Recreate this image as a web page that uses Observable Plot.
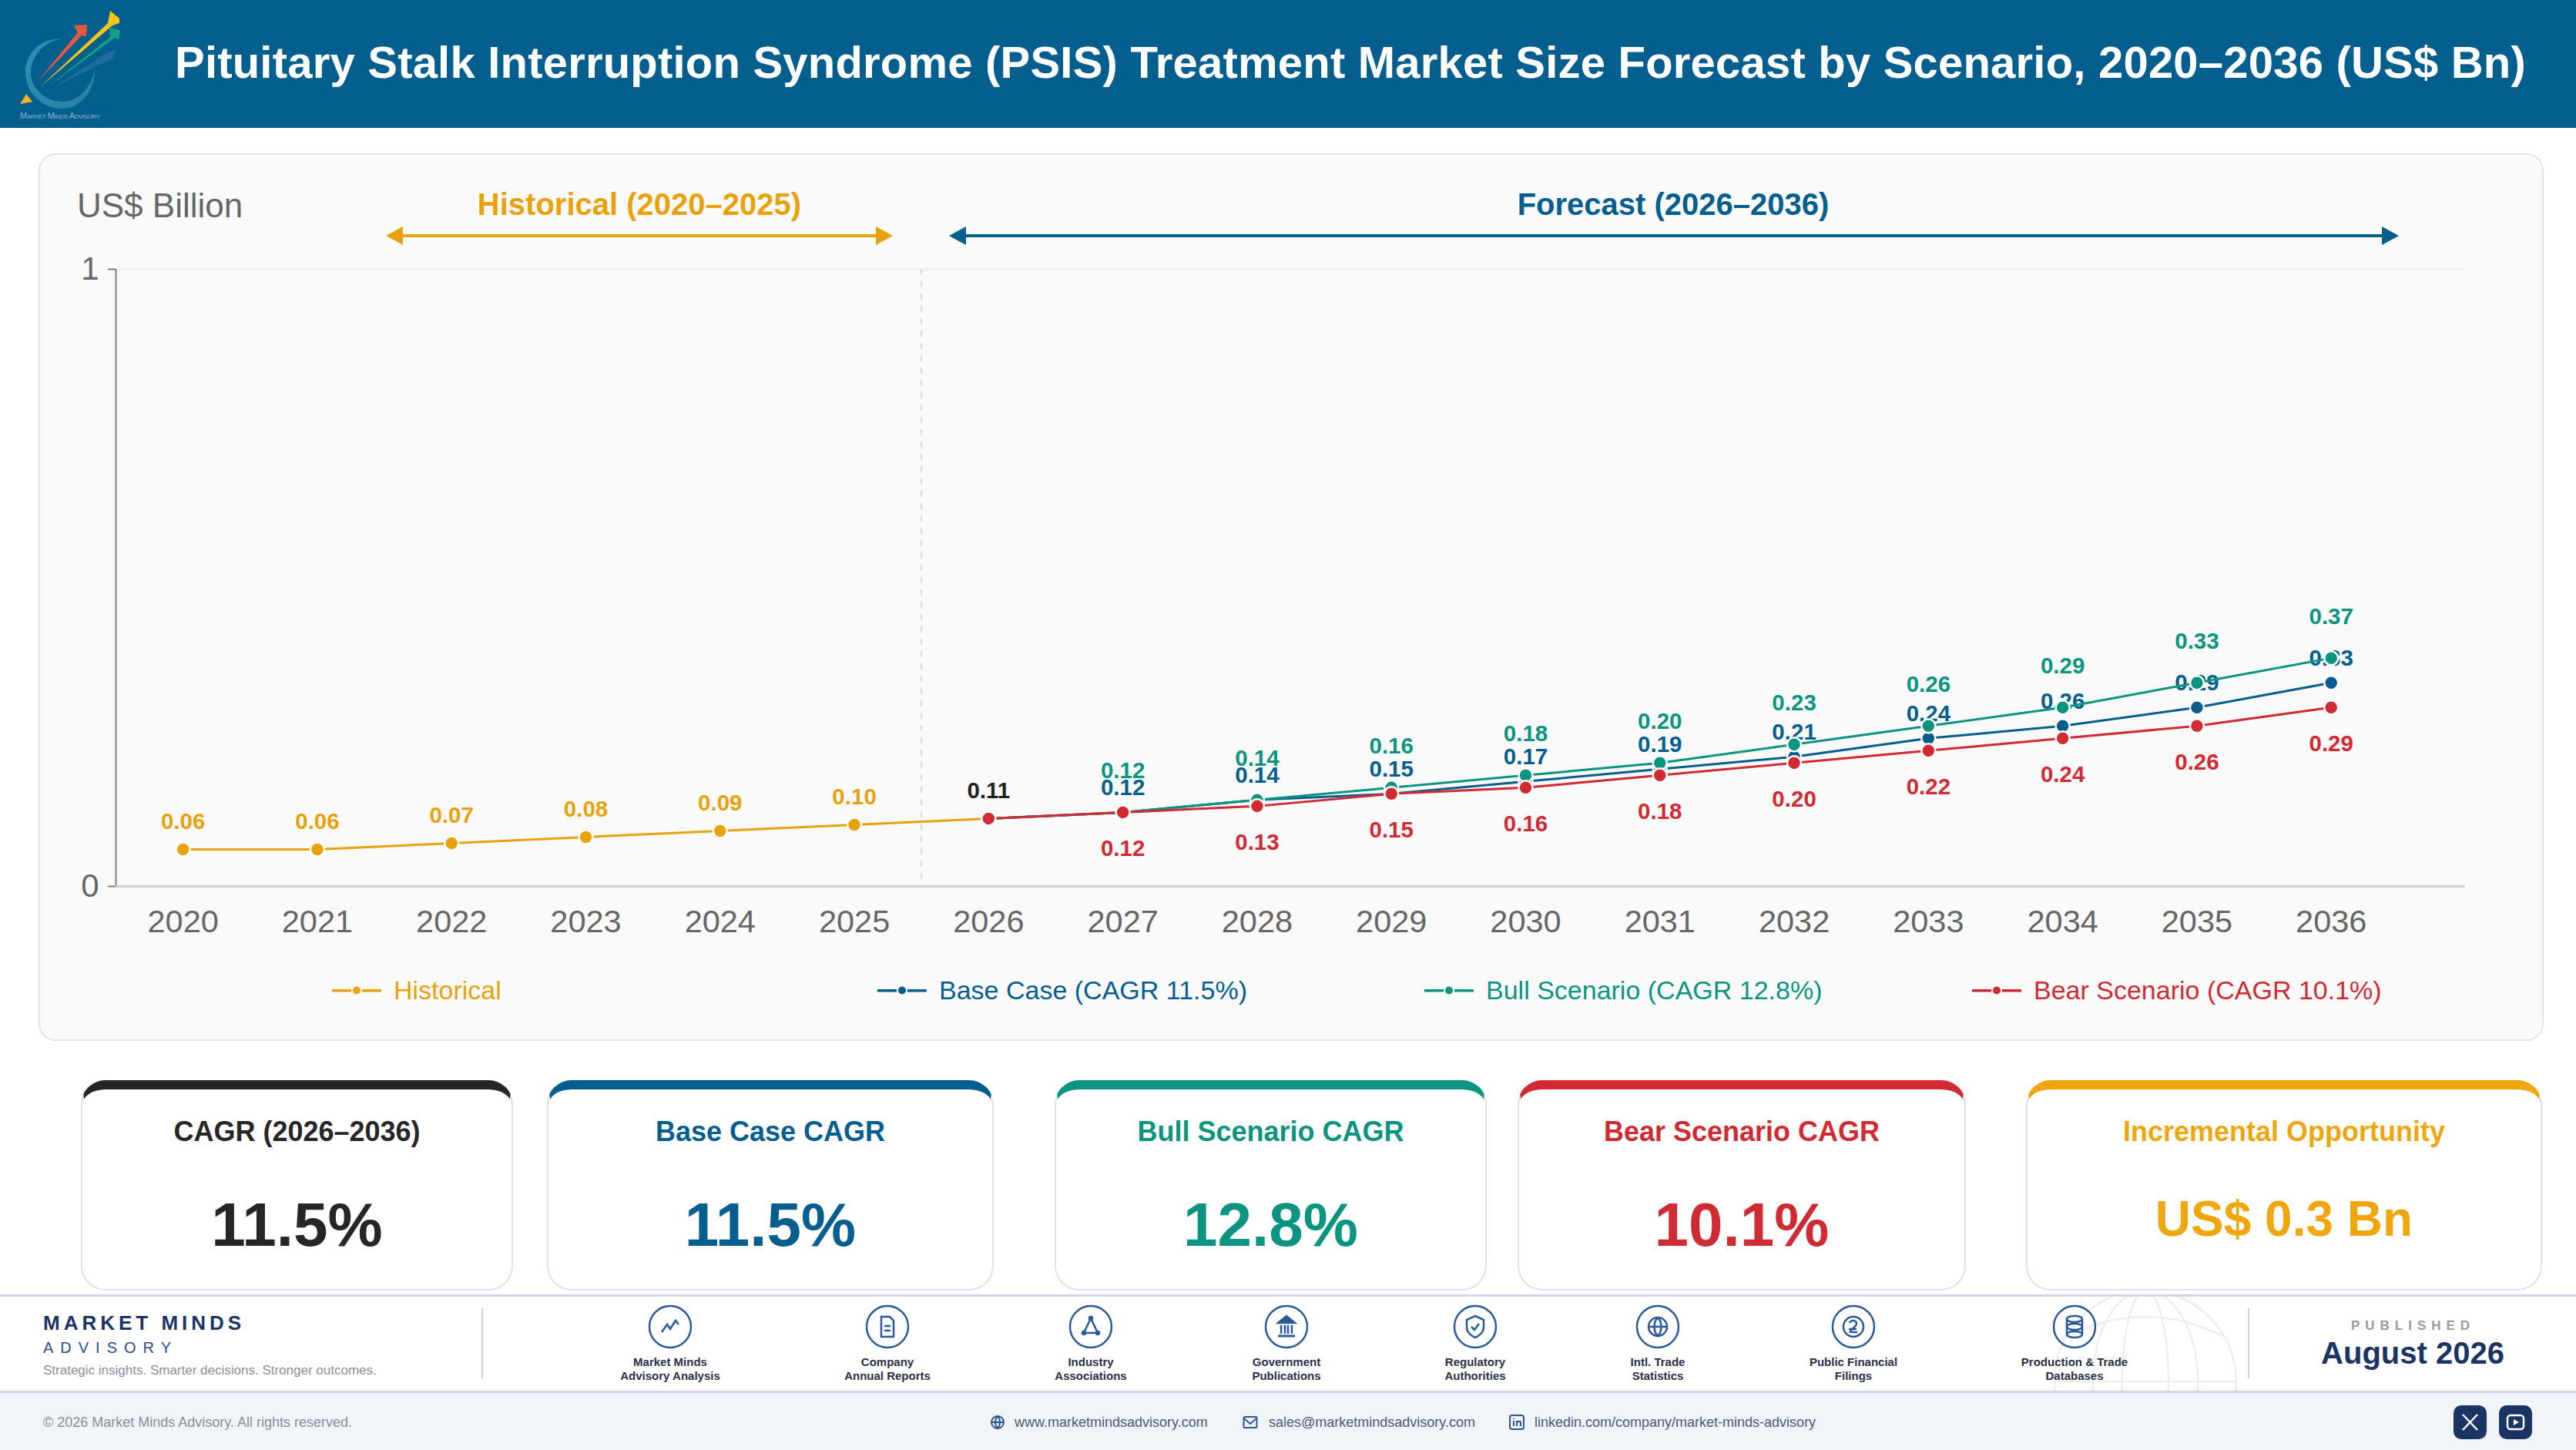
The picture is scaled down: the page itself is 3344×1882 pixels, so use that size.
<!DOCTYPE html>
<html><head><meta charset="utf-8">
<script src="https://cdn.jsdelivr.net/npm/d3@7"></script>
<script src="https://cdn.jsdelivr.net/npm/@observablehq/plot@0.6"></script>
<style>
html,body{margin:0;padding:0;background:#fff;}
body{width:3344px;height:1882px;position:relative;overflow:hidden;font-family:"Liberation Sans",Arial,sans-serif;}
.abs{position:absolute;white-space:nowrap;line-height:1;}
.c{transform:translate(-50%,-50%);text-align:center;}
.m{transform:translateY(-50%);}
#header{position:absolute;left:0;top:0;width:3344px;height:166px;background:#055f8e;}
#panel{position:absolute;left:50px;top:199px;width:3248px;height:1148px;background:#fafafa;border:2px solid #e4e4e4;border-radius:22px;}
#chart{position:absolute;left:50px;top:199px;}
.card{position:absolute;top:1402px;height:273px;box-sizing:border-box;background:#fff;border:2px solid #e2e2e2;border-top:12px solid;border-radius:32px;}
#foot1{position:absolute;left:0;top:1680px;width:3344px;height:128px;box-sizing:border-box;border-top:3px solid #d3d6e4;border-bottom:3px solid #d3d6e4;background:#fff;overflow:hidden;}
#foot2{position:absolute;left:0;top:1808px;width:3344px;height:74px;background:#f0f3f8;}
.divider{position:absolute;top:1698px;height:91px;width:2px;background:#ccd2e0;}
.btn{position:absolute;top:1824px;width:43px;height:44px;border-radius:10px;background:#1a3563;}
</style></head><body>
<div id="header"></div>
<svg class="abs" style="left:0;top:0" width="170" height="166" viewBox="0 0 170 166">
  <defs><linearGradient id="sw" x1="0" y1="0" x2="1" y2="1"><stop offset="0" stop-color="#2f8fb0"/><stop offset="1" stop-color="#2a7fa6"/></linearGradient></defs>
  <path d="M80 50 C50 50 32 72 33 95 C34 122 56 141 80 141 C104 141 124 118 123 88 C120 112 102 133 80 132 C58 131 40 115 40 94 C40 72 58 54 80 50Z" fill="url(#sw)"/>
  <path d="M70 113 L140 68 L150 65 L146 76Z" fill="#2a73a8" opacity=".7"/>
  <path d="M63 112 L143 48 L142 36 L156 39 L154 52 L149 49Z" fill="#15a083"/>
  <path d="M48 107 L101 42 L96 33 L113 32 L112 47 L106 46Z" fill="#e8583e"/>
  <path d="M52 113 L140 30 L143 14 L155 24 L155 30 L146 33Z" fill="#f5c518"/>
  <path d="M26 135 L34 122 L42 132Z" fill="#f5b325"/>
  <text x="26" y="154" textLength="104" font-size="11" style="font-variant:small-caps" fill="#8fb0c8" font-family="Liberation Sans">Market Minds Advisory</text>
</svg>
<div class="abs m" id="title" style="left:227px;top:81px;font-size:58px;font-weight:700;color:#fff">Pituitary Stalk Interruption Syndrome (PSIS) Treatment Market Size Forecast by Scenario, 2020–2036 (US$ Bn)</div>
<div id="panel"></div>
<div id="chart"></div>
<div class="abs m" style="left:100px;top:267px;font-size:44px;color:#666">US$ Billion</div>
<div class="abs c" style="left:830px;top:265px;font-size:40px;font-weight:700;color:#e8a30c">Historical (2020–2025)</div>
<div class="abs c" style="left:2172px;top:265px;font-size:40px;font-weight:700;color:#055f8e">Forecast (2026–2036)</div>
<svg class="abs" style="left:480px;top:290px" width="2660" height="32">
  <g fill="#e8a30c"><rect x="40" y="14" width="620" height="4"/><path d="M21 16 L43 4 L43 28Z"/><path d="M679 16 L657 4 L657 28Z"/></g>
  <g fill="#055f8e"><rect x="770" y="14" width="1850" height="4"/><path d="M752 16 L774 4 L774 28Z"/><path d="M2634 16 L2612 4 L2612 28Z"/></g>
</svg>
<div id="legend"></div>
<div id="cards"></div>
<div id="foot1">
 <svg style="position:absolute;left:2655px;top:-20px" width="270" height="260" viewBox="0 0 270 260" fill="none" stroke="#eceef2" stroke-width="2.5">
  <circle cx="130" cy="130" r="118"/><ellipse cx="130" cy="130" rx="68" ry="118"/><ellipse cx="130" cy="130" rx="30" ry="118"/>
  <path d="M12 130 H248 M28 72 Q130 20 232 72"/>
 </svg>
</div>
<div id="foot2"></div>
<div class="abs m" style="left:56px;top:1717px;font-size:26px;font-weight:700;color:#1a3563;letter-spacing:5px">MARKET MINDS</div>
<div class="abs m" style="left:56px;top:1749px;font-size:20px;color:#2f4d7e;letter-spacing:9px">ADVISORY</div>
<div class="abs m" style="left:56px;top:1778px;font-size:17px;color:#8a8f98">Strategic insights. Smarter decisions. Stronger outcomes.</div>
<div class="divider" style="left:625px"></div>
<div class="divider" style="left:2918px"></div>
<div id="sources"></div>
<div class="abs c" style="left:3129px;top:1720px;font-size:17px;font-weight:700;color:#98989f;letter-spacing:7px;padding-left:7px">PUBLISHED</div>
<div class="abs c" style="left:3132px;top:1756px;font-size:40px;font-weight:700;color:#1a3563">August 2026</div>
<div class="abs m" style="left:56px;top:1846px;font-size:18px;color:#8a8f98">© 2026 Market Minds Advisory. All rights reserved.</div>
<svg class="abs" style="left:1284px;top:1835px" width="22" height="22" fill="none" stroke="#2f5590" stroke-width="2"><circle cx="11" cy="11" r="8"/><path d="M3 11H19M11 3C7 7 7 15 11 19C15 15 15 7 11 3"/></svg>
<div class="abs m" style="left:1317px;top:1846px;font-size:18px;color:#4a5a7a">www.marketmindsadvisory.com</div>
<svg class="abs" style="left:1612px;top:1835px" width="22" height="22" fill="none" stroke="#2f5590" stroke-width="2"><rect x="2.500" y="4" width="17" height="14" rx="1.500"/><path d="M3 6L11 13L19 6"/></svg>
<div class="abs m" style="left:1647px;top:1846px;font-size:18px;color:#4a5a7a">sales@marketmindsadvisory.com</div>
<svg class="abs" style="left:1958px;top:1835px" width="22" height="22" fill="none" stroke="#2f5590" stroke-width="2"><rect x="2" y="2" width="18" height="18" rx="3"/><path d="M7 9V16M7 6V7M11 16V9M11 12C12 9 16 9 16 12V16"/></svg>
<div class="abs m" style="left:1992px;top:1846px;font-size:18px;color:#4a5a7a">linkedin.com/company/market-minds-advisory</div>
<div class="btn" style="left:3185px"><svg width="43" height="44" fill="none" stroke="#fff" stroke-width="2.500"><path d="M12 12L31 32M31 12L12 32"/></svg></div>
<div class="btn" style="left:3244px"><svg width="43" height="44" fill="none" stroke="#fff" stroke-width="2.500"><rect x="11" y="13" width="21" height="18" rx="4"/><path d="M19 18L26 22L19 26Z" fill="#fff" stroke="none"/></svg></div>

<script>
// ---------- chart data ----------
const years = [2020,2021,2022,2023,2024,2025,2026,2027,2028,2029,2030,2031,2032,2033,2034,2035,2036];
const historicalYears = [2020,2021,2022,2023,2024,2025,2026];
const historicalValues = [0.06,0.06,0.07,0.08,0.09,0.10,0.11];
const forecastYears = [2026,2027,2028,2029,2030,2031,2032,2033,2034,2035,2036];
const baseValues = [0.11,0.12,0.14,0.15,0.17,0.19,0.21,0.24,0.26,0.29,0.33];
const bullValues = [0.11,0.12,0.14,0.16,0.18,0.20,0.23,0.26,0.29,0.33,0.37];
const bearValues = [0.11,0.12,0.13,0.15,0.16,0.18,0.20,0.22,0.24,0.26,0.29];
const legendLabels = ["Historical","Base Case (CAGR 11.5%)","Bull Scenario (CAGR 12.8%)","Bear Scenario (CAGR 10.1%)"];
const kpiTitles = ["CAGR (2026–2036)","Base Case CAGR","Bull Scenario CAGR","Bear Scenario CAGR","Incremental Opportunity"];
const kpiValues = ["11.5%","11.5%","12.8%","10.1%","US$ 0.3 Bn"];
const sourceLabels = [["Market Minds","Advisory Analysis"],["Company","Annual Reports"],["Industry","Associations"],["Government","Publications"],["Regulatory","Authorities"],["Intl. Trade","Statistics"],["Public Financial","Filings"],["Production & Trade","Databases"]];

// ---------- styling ----------
const HIST="#e8a30c", BASE="#055f8e", BULL="#0b9580", BEAR="#d02b33";
const tbl=(xs,vs)=>xs.map((year,i)=>({year,value:vs[i]}));
const hist=tbl(historicalYears,historicalValues), base=tbl(forecastYears,baseValues),
      bull=tbl(forecastYears,bullValues), bear=tbl(forecastYears,bearValues);
const f2=d=>d.value.toFixed(2);
const labelOpts={x:"year",y:"value",text:f2,fontSize:29.5,fontWeight:700,fontFamily:"Liberation Sans"};
const lineOpts={x:"year",y:"value",strokeWidth:3};
const dotOpts={x:"year",y:"value",r:9,stroke:"#fff",strokeWidth:2.5};

const plot=Plot.plot({
  width:3250,height:1150,
  marginLeft:100,marginRight:100,marginTop:150,marginBottom:199,
  style:{background:"transparent",fontFamily:"Liberation Sans"},
  x:{type:"linear",domain:[2019.5,2037],label:null},
  y:{domain:[0,1],label:null},
  marks:[
    Plot.ruleY([1],{stroke:"#eeeeee",strokeWidth:2}),
    Plot.ruleX([2025.5],{stroke:"#d8d8d8",strokeWidth:2,strokeDasharray:"8 8"}),
    Plot.ruleX([2019.5],{stroke:"#808080",strokeWidth:2}),
    Plot.ruleY([0],{stroke:"#cfcfcf",strokeWidth:3}),
    Plot.axisY({ticks:[0,1],tickFormat:d=>String(d),tickSize:10,tickPadding:12,fontSize:42,color:"#666",stroke:"#808080",label:null,strokeWidth:2}),
    Plot.axisX({ticks:years,tickFormat:"d",tickSize:0,tickPadding:30,fontSize:41.5,color:"#666",label:null}),
    Plot.text(hist.slice(0,6),{...labelOpts,fill:HIST,dy:-36}),
    Plot.text(hist.slice(6),{...labelOpts,fill:"#222",dy:-36}),
    Plot.text(bull.slice(1),{...labelOpts,fill:BULL,dy:-54}),
    Plot.text(base.slice(1),{...labelOpts,fill:BASE,dy:-32}),
    Plot.text(bear.slice(1),{...labelOpts,fill:BEAR,dy:47}),
    Plot.line(hist,{...lineOpts,stroke:HIST}),
    Plot.dot(hist,{...dotOpts,fill:HIST}),
    Plot.line(base,{...lineOpts,stroke:BASE}),
    Plot.dot(base,{...dotOpts,fill:BASE}),
    Plot.line(bull,{...lineOpts,stroke:BULL}),
    Plot.dot(bull,{...dotOpts,fill:BULL}),
    Plot.line(bear,{...lineOpts,stroke:BEAR}),
    Plot.dot(bear,{...dotOpts,fill:BEAR})
  ]
});
document.getElementById("chart").appendChild(plot);

// fit the title to the width it has in the reference
const titleEl=document.getElementById("title");
const titleTarget=3052, titleChars=titleEl.textContent.length;
titleEl.style.letterSpacing=((titleTarget-titleEl.getBoundingClientRect().width)/titleChars)+"px";

// ---------- legend ----------
const legendLeft=[431,1139,1849,2560], legendColors=[HIST,BASE,BULL,BEAR];
document.getElementById("legend").innerHTML=legendLabels.map((t,i)=>`
 <svg class="abs" style="left:${legendLeft[i]}px;top:1270px" width="64" height="32"><rect x="0" y="14" width="64" height="3.500" fill="${legendColors[i]}"/><circle cx="32" cy="15.500" r="6" fill="${legendColors[i]}" stroke="#fafafa" stroke-width="2"/></svg>
 <div class="abs m" style="left:${legendLeft[i]+80}px;top:1285px;font-size:34px;color:${legendColors[i]}">${t}</div>`).join("");

// ---------- KPI cards ----------
const cardLeft=[105,710,1369,1970,2630], cardRight=[666,1290,1930,2552,3300],
      cardColor=["#262626",BASE,BULL,BEAR,"#f0a70f"], valTop=[1590,1590,1590,1590,1582], valSize=[80,80,80,80,64];
document.getElementById("cards").innerHTML=kpiTitles.map((t,i)=>{
  const cx=(cardLeft[i]+cardRight[i])/2;
  return `<div class="card" style="left:${cardLeft[i]}px;width:${cardRight[i]-cardLeft[i]}px;border-top-color:${cardColor[i]}"></div>
  <div class="abs c" style="left:${cx}px;top:1469px;font-size:36px;font-weight:700;color:${cardColor[i]}">${t}</div>
  <div class="abs c" style="left:${cx}px;top:${valTop[i]}px;font-size:${valSize[i]}px;font-weight:700;color:${cardColor[i]}">${kpiValues[i]}</div>`;
}).join("");

// ---------- sources row ----------
const sourceX=[870,1152,1416,1670,1915,2152,2406,2693];
const glyphs=[
 '<path d="M19 37L26 27L30 33L37 22L41 27"/>',
 '<path d="M22 17H33L38 22V43H22Z"/><path d="M26 29H34M26 35H34"/>',
 '<path d="M30 19L21 38H39Z"/><circle cx="30" cy="19" r="2" fill="#2a5a9a"/><circle cx="21" cy="38" r="2" fill="#2a5a9a"/><circle cx="39" cy="38" r="2" fill="#2a5a9a"/>',
 '<path d="M19 25L30 16L41 25Z" fill="#2a5a9a"/><path d="M23 28V39M28 28V39M32 28V39M37 28V39"/><path d="M19 42H41" stroke-width="3"/>',
 '<path d="M30 16L41 21V31C41 37 35 42 30 44C25 42 19 37 19 31V21Z"/><path d="M25 30L29 34L35 26"/>',
 '<circle cx="30" cy="30" r="12"/><path d="M18 30H42M30 18C24 24 24 36 30 42C36 36 36 24 30 18"/>',
 '<circle cx="30" cy="30" r="13"/><path d="M25 25C27 21 34 21 34 26C34 30 27 32 26 37H35M24 33H34"/>',
 '<ellipse cx="30" cy="20" rx="10" ry="4"/><ellipse cx="30" cy="30" rx="10" ry="4"/><ellipse cx="30" cy="40" rx="10" ry="4"/><path d="M20 20V40M40 20V40"/>'
];
document.getElementById("sources").innerHTML=sourceLabels.map((l,i)=>`
 <svg class="abs" style="left:${sourceX[i]-30}px;top:1692px" width="60" height="60" fill="none" stroke="#2a5a9a" stroke-width="2.500"><circle cx="30" cy="30" r="27"/>${glyphs[i]}</svg>
 <div class="abs c" style="left:${sourceX[i]}px;top:1767px;font-size:15px;font-weight:700;color:#2a2f45">${l[0]}</div>
 <div class="abs c" style="left:${sourceX[i]}px;top:1785px;font-size:15px;font-weight:700;color:#2a2f45">${l[1]}</div>`).join("");
</script>
</body></html>
